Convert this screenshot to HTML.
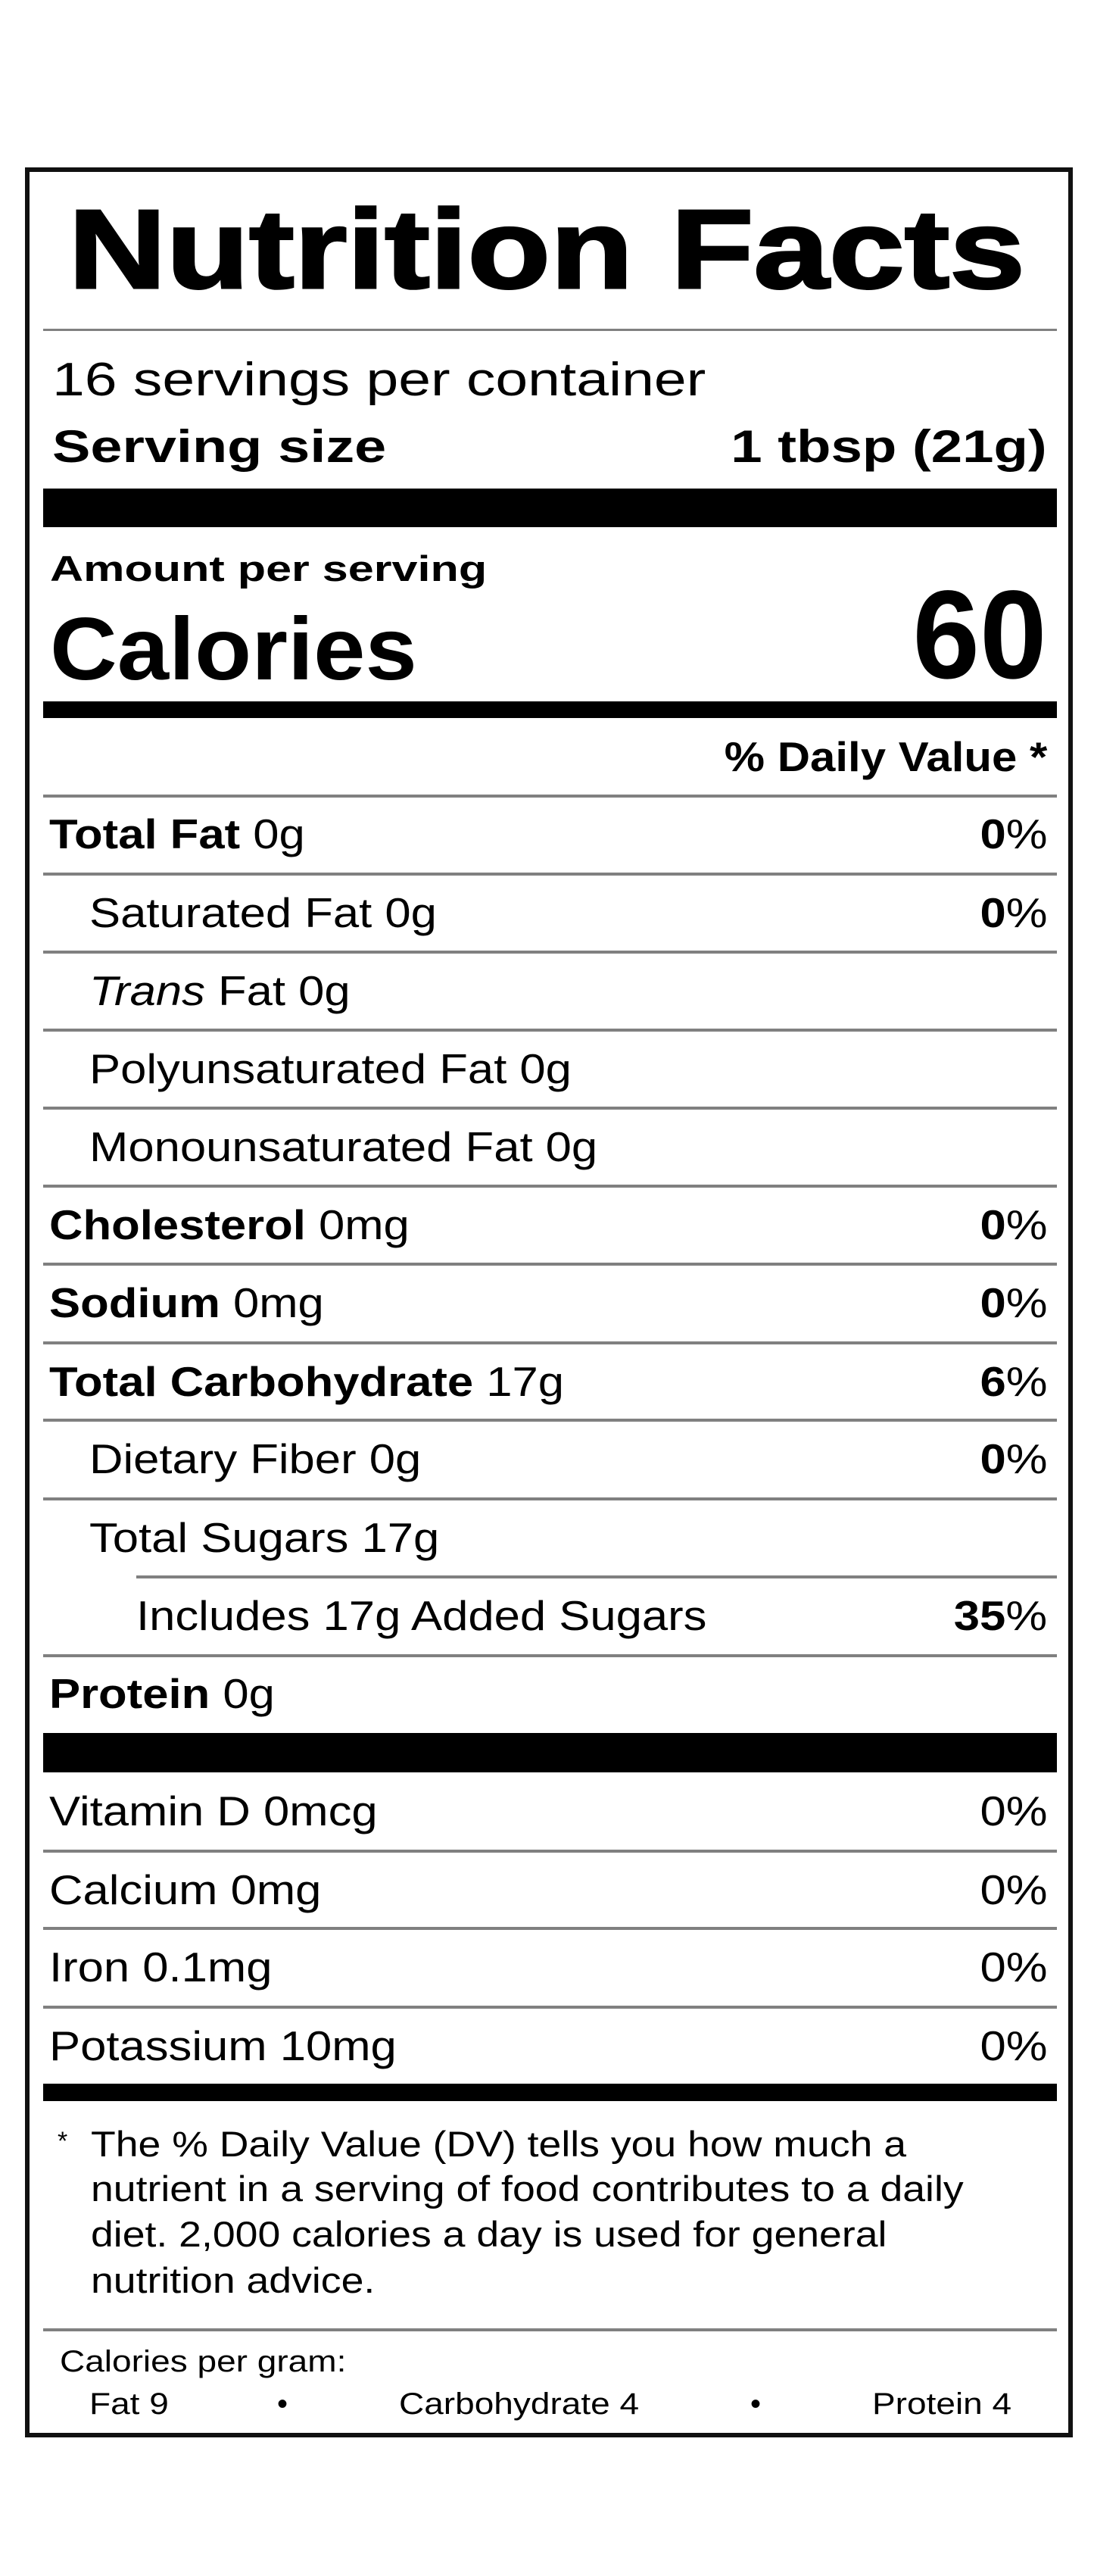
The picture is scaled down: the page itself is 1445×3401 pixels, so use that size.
<!DOCTYPE html>
<html><head><meta charset="utf-8"><style>
html,body{margin:0;padding:0;background:#fff;}
body{width:1445px;height:3401px;position:relative;overflow:hidden;font-family:"Liberation Sans",Arial,sans-serif;color:#000;}
.box{position:absolute;left:33px;top:221px;width:1372px;height:2985px;border:6px solid #111;}
.t{position:absolute;line-height:1;white-space:nowrap;transform-origin:left center;}
.r{right:62px;text-align:right;transform-origin:right center;}
.b{font-weight:bold;}
.ln{position:absolute;left:57px;width:1339px;height:4px;background:#808080;}
.bar{position:absolute;left:57px;width:1339px;background:#000;}
.rw{font-size:55px;transform:scaleX(1.12);}
.fn{font-size:47px;transform:scaleX(1.14);}
.cg{font-size:40px;transform:scaleX(1.15);}
</style></head><body>
<div class="box"></div>

<div class="t b" style="left:0;width:1445px;text-align:center;top:256px;font-size:148px;"><span style="display:inline-block;transform:scaleX(1.21);-webkit-text-stroke:3px #000;">Nutrition Facts</span></div>
<div class="ln" style="top:434px;height:3px;"></div>

<div class="t" style="left:69px;top:471px;font-size:62px;transform:scaleX(1.24);">16 servings per container</div>
<div class="t b" style="left:69px;top:560px;font-size:60px;transform:scaleX(1.26);">Serving size</div>
<div class="t b r" style="top:560px;font-size:60px;transform:scaleX(1.24);">1 tbsp (21g)</div>
<div class="bar" style="top:645px;height:51px;"></div>

<div class="t b" style="left:66px;top:727px;font-size:47px;transform:scaleX(1.3);">Amount per serving</div>
<div class="t b" style="left:66px;top:798px;font-size:117px;transform:scaleX(1.05);">Calories</div>
<div class="t b r" style="top:756px;font-size:166px;transform:scaleX(0.96);">60</div>
<div class="bar" style="top:926px;height:22px;"></div>

<div class="t b r" style="top:972px;font-size:55px;transform:scaleX(1.09);">% Daily Value *</div>
<div class="ln" style="top:1049px;"></div>

<div class="t rw" style="left:65px;top:1074px;"><b>Total Fat</b> 0g</div>
<div class="t rw r" style="top:1074px;"><b>0</b>%</div>
<div class="ln" style="top:1152px;"></div>

<div class="t rw" style="left:118px;top:1178px;">Saturated Fat 0g</div>
<div class="t rw r" style="top:1178px;"><b>0</b>%</div>
<div class="ln" style="top:1255px;"></div>

<div class="t rw" style="left:118px;top:1281px;"><i>Trans</i> Fat 0g</div>
<div class="ln" style="top:1358px;"></div>

<div class="t rw" style="left:118px;top:1384px;">Polyunsaturated Fat 0g</div>
<div class="ln" style="top:1461px;"></div>

<div class="t rw" style="left:118px;top:1487px;">Monounsaturated Fat 0g</div>
<div class="ln" style="top:1564px;"></div>

<div class="t rw" style="left:65px;top:1590px;"><b>Cholesterol</b> 0mg</div>
<div class="t rw r" style="top:1590px;"><b>0</b>%</div>
<div class="ln" style="top:1667px;"></div>

<div class="t rw" style="left:65px;top:1693px;"><b>Sodium</b> 0mg</div>
<div class="t rw r" style="top:1693px;"><b>0</b>%</div>
<div class="ln" style="top:1771px;"></div>

<div class="t rw" style="left:65px;top:1797px;"><b>Total Carbohydrate</b> 17g</div>
<div class="t rw r" style="top:1797px;"><b>6</b>%</div>
<div class="ln" style="top:1873px;"></div>

<div class="t rw" style="left:118px;top:1899px;">Dietary Fiber 0g</div>
<div class="t rw r" style="top:1899px;"><b>0</b>%</div>
<div class="ln" style="top:1977px;"></div>

<div class="t rw" style="left:118px;top:2003px;">Total Sugars 17g</div>
<div class="ln" style="top:2080px;left:180px;width:1216px;"></div>

<div class="t rw" style="left:180px;top:2106px;">Includes 17g Added Sugars</div>
<div class="t rw r" style="top:2106px;"><b>35</b>%</div>
<div class="ln" style="top:2184px;"></div>

<div class="t rw" style="left:65px;top:2209px;"><b>Protein</b> 0g</div>
<div class="bar" style="top:2288px;height:52px;"></div>

<div class="t rw" style="left:65px;top:2364px;">Vitamin D 0mcg</div>
<div class="t rw r" style="top:2364px;">0%</div>
<div class="ln" style="top:2442px;"></div>

<div class="t rw" style="left:65px;top:2468px;">Calcium 0mg</div>
<div class="t rw r" style="top:2468px;">0%</div>
<div class="ln" style="top:2544px;"></div>

<div class="t rw" style="left:65px;top:2570px;">Iron 0.1mg</div>
<div class="t rw r" style="top:2570px;">0%</div>
<div class="ln" style="top:2648px;"></div>

<div class="t rw" style="left:65px;top:2674px;">Potassium 10mg</div>
<div class="t rw r" style="top:2674px;">0%</div>
<div class="bar" style="top:2751px;height:23px;"></div>

<div class="t" style="left:76px;top:2810px;font-size:34px;">*</div>
<div class="t fn" style="left:120px;top:2807px;">The % Daily Value (DV) tells you how much a</div>
<div class="t fn" style="left:120px;top:2866px;">nutrient in a serving of food contributes to a daily</div>
<div class="t fn" style="left:120px;top:2926px;">diet. 2,000 calories a day is used for general</div>
<div class="t fn" style="left:120px;top:2987px;">nutrition advice.</div>
<div class="ln" style="top:3074px;"></div>

<div class="t cg" style="left:79px;top:3098px;">Calories per gram:</div>
<div class="t cg" style="left:118px;top:3154px;">Fat 9</div>
<div class="t" style="left:366px;top:3154px;font-size:40px;">•</div>
<div class="t cg" style="left:527px;top:3154px;">Carbohydrate 4</div>
<div class="t" style="left:991px;top:3154px;font-size:40px;">•</div>
<div class="t cg" style="left:1152px;top:3154px;">Protein 4</div>
</body></html>
